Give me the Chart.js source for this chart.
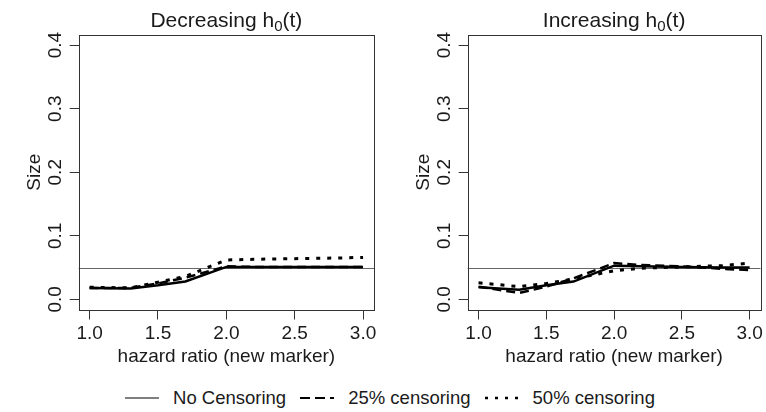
<!DOCTYPE html>
<html>
<head>
<meta charset="utf-8">
<script src="https://cdn.jsdelivr.net/npm/chart.js@4.4.1/dist/chart.umd.min.js"></script>
<style>
    body { margin: 0; background: #fff; width: 766px; height: 412px; overflow: hidden; position: relative; font-family: "Liberation Sans", Arial, sans-serif; color: #1a1a1a; }
    canvas { position: absolute; top: 0; }
    #chart-left { left: 0; }
    #chart-right { left: 389px; }
    #legend { position: absolute; top: 386px; left: 0; width: 780px; height: 24px; display: flex; justify-content: center; align-items: center; font-size: 18.5px; }
    .item { display: flex; align-items: center; margin: 0 7px; }
    .item svg { margin-right: 14px; }
</style>
</head>
<body>
<canvas id="chart-left" width="383" height="380"></canvas>
<canvas id="chart-right" width="377" height="380"></canvas>
<div id="legend"></div>

<script>
// ค่าที่อ่านจากรูป
const hazardRatio = [1.0, 1.3, 1.5, 1.7, 2.0, 2.2, 2.5, 2.8, 3.0];
const decNoCens = [0.018, 0.017, 0.022, 0.028, 0.051, 0.051, 0.051, 0.051, 0.051];
const dec25 = [0.018, 0.018, 0.025, 0.034, 0.052, 0.051, 0.051, 0.051, 0.051];
const dec50 = [0.019, 0.018, 0.027, 0.036, 0.062, 0.063, 0.064, 0.065, 0.066];
const incNoCens = [0.019, 0.015, 0.022, 0.028, 0.053, 0.052, 0.051, 0.050, 0.050];
const inc25 = [0.020, 0.010, 0.020, 0.033, 0.057, 0.054, 0.052, 0.048, 0.046];
const inc50 = [0.026, 0.020, 0.025, 0.032, 0.045, 0.049, 0.051, 0.053, 0.057];
const nominalSize = 0.05;

const xTicks = [1.0, 1.5, 2.0, 2.5, 3.0];
const yTicks = [0.0, 0.1, 0.2, 0.3, 0.4];
const seriesNames = ['No Censoring', '25% censoring', '50% censoring'];

const FONT = '"Liberation Sans", Arial, sans-serif';
const INK = '#1a1a1a';

// กรอบรอบพื้นที่กราฟ + เส้นระดับ 0.05
const boxPlugin = {
    id: 'box',
    beforeDatasetsDraw(chart) {
        const { ctx, chartArea: a, scales } = chart;
        const y = Math.round(scales.y.getPixelForValue(nominalSize)) + 0.5;
        ctx.save();
        ctx.strokeStyle = '#666';
        ctx.lineWidth = 1;
        ctx.beginPath();
        ctx.moveTo(a.left, y);
        ctx.lineTo(a.right, y);
        ctx.stroke();
        ctx.restore();
    },
    afterDraw(chart) {
        const { ctx, chartArea: a } = chart;
        ctx.save();
        ctx.strokeStyle = '#333';
        ctx.lineWidth = 1;
        ctx.strokeRect(Math.round(a.left) + 0.5, Math.round(a.top) + 0.5, Math.round(a.right - a.left), Math.round(a.bottom - a.top));
        ctx.restore();
    }
};

// หัวกราฟแบบมีตัวห้อย h0(t)
const titlePlugin = {
    id: 'panelTitle',
    afterDraw(chart, args, opts) {
        const { ctx, chartArea: a } = chart;
        const big = '21px ' + FONT;
        const small = '15px ' + FONT;
        ctx.save();
        ctx.fillStyle = INK;
        ctx.textBaseline = 'alphabetic';
        ctx.font = big;
        const w1 = ctx.measureText(opts.text).width;
        const w3 = ctx.measureText(opts.tail).width;
        ctx.font = small;
        const w2 = ctx.measureText(opts.sub).width;
        let x = (a.left + a.right) / 2 - (w1 + w2 + w3) / 2;
        const base = 27;
        ctx.font = big;
        ctx.fillText(opts.text, x, base);
        x += w1;
        ctx.font = small;
        ctx.fillText(opts.sub, x, base + 4);
        x += w2;
        ctx.font = big;
        ctx.fillText(opts.tail, x, base);
        ctx.restore();
    }
};

function toPoints(values) {
    return values.map((v, i) => ({ x: hazardRatio[i], y: v }));
}

function makeChart(canvasId, title, series, rightPad) {
    const styles = [
        { dash: [], width: 2.5 },
        { dash: [9, 5], width: 2.5 },
        { dash: [4, 7], width: 3 }
    ];
    const datasets = series.map((vals, i) => ({
        label: seriesNames[i],
        data: toPoints(vals),
        borderColor: '#000',
        borderWidth: styles[i].width,
        borderDash: styles[i].dash,
        pointRadius: 0,
        tension: 0,
        fill: false
    }));

    return new Chart(document.getElementById(canvasId), {
        type: 'line',
        data: { datasets: datasets },
        options: {
            responsive: false,
            animation: false,
            layout: { padding: { left: 0, right: rightPad, top: 35, bottom: 0 } },
            plugins: {
                legend: { display: false },
                tooltip: { enabled: false },
                panelTitle: title
            },
            scales: {
                x: {
                    type: 'linear',
                    min: 0.92,
                    max: 3.08,
                    afterBuildTicks: s => { s.ticks = xTicks.map(v => ({ value: v })); },
                    afterFit: s => { s.height = 70.5; },
                    ticks: {
                        color: INK,
                        font: { family: FONT, size: 19 },
                        padding: 3,
                        maxRotation: 0,
                        callback: v => Number(v).toFixed(1)
                    },
                    grid: { display: true, drawOnChartArea: false, drawTicks: true, tickLength: 10, color: '#333' },
                    border: { display: false },
                    title: {
                        display: true,
                        text: 'hazard ratio (new marker)',
                        color: INK,
                        font: { family: FONT, size: 19 },
                        padding: { top: 0, bottom: 12 }
                    }
                },
                y: {
                    type: 'linear',
                    min: -0.016,
                    max: 0.416,
                    afterBuildTicks: s => { s.ticks = yTicks.map(v => ({ value: v })); },
                    afterFit: s => { s.width = 78.7; },
                    ticks: {
                        color: INK,
                        font: { family: FONT, size: 19 },
                        padding: 1,
                        minRotation: 90,
                        maxRotation: 90,
                        crossAlign: 'center',
                        callback: v => Number(v).toFixed(1)
                    },
                    grid: { display: true, drawOnChartArea: false, drawTicks: true, tickLength: 9, color: '#333' },
                    border: { display: false },
                    title: {
                        display: true,
                        text: 'Size',
                        color: INK,
                        font: { family: FONT, size: 19 },
                        padding: { top: 23, bottom: 0 }
                    }
                }
            }
        },
        plugins: [boxPlugin, titlePlugin]
    });
}

makeChart('chart-left', { text: 'Decreasing h', sub: '0', tail: '(t)' }, [decNoCens, dec25, dec50], 9);
makeChart('chart-right', { text: 'Increasing h', sub: '0', tail: '(t)' }, [incNoCens, inc25, inc50], 4);

// legend ด้านล่าง
const legendStyles = [
    { dash: '', width: 1 },
    { dash: '10 5', width: 2 },
    { dash: '3 7', width: 2.5 }
];
const legendEl = document.getElementById('legend');
legendEl.innerHTML = seriesNames.map((name, i) => `
    <span class="item">
        <svg width="34" height="10"><line x1="0" y1="5" x2="34" y2="5" stroke="#000"
            stroke-width="${legendStyles[i].width}" stroke-dasharray="${legendStyles[i].dash}"/></svg>
        ${name}
    </span>
`).join('');
</script>
</body>
</html>
